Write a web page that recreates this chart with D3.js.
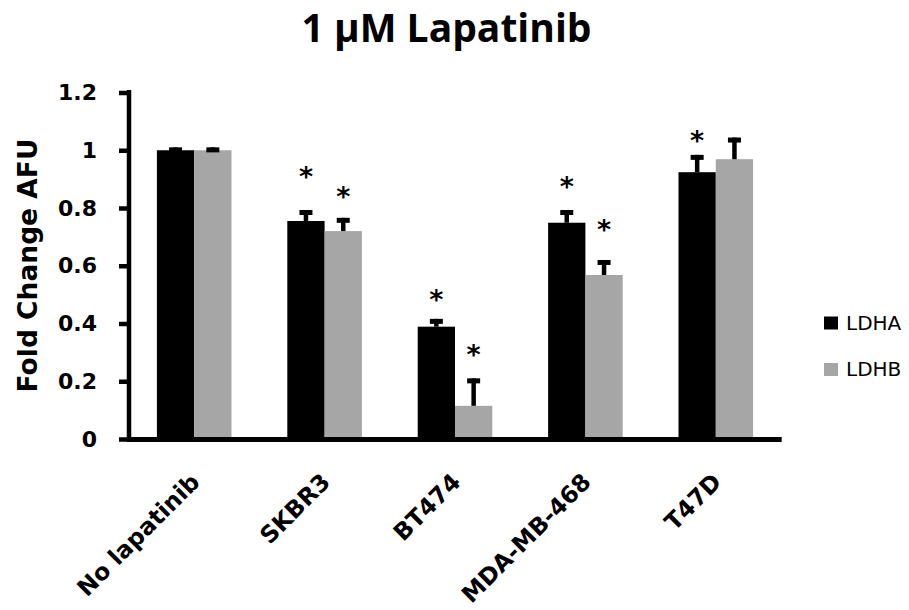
<!DOCTYPE html>
<html>
<head>
<meta charset="utf-8">
<script src="https://cdn.jsdelivr.net/npm/d3@7"></script>
<style>
  body { margin: 0; background: #fff; }
</style>
</head>
<body>
<div id="chart"></div>
<script>
// Donnees du graphique
var categories = ["No lapatinib", "SKBR3", "BT474", "MDA-MB-468", "T47D"];
var series = ["LDHA", "LDHB"];
var ldhaValues = [1.0, 0.755, 0.389, 0.749, 0.924];
var ldhbValues = [1.0, 0.72, 0.115, 0.568, 0.969];
var ldhaErrors = [0.01, 0.038, 0.027, 0.044, 0.06];
var ldhbErrors = [0.01, 0.046, 0.095, 0.052, 0.075];
// hauteur des asterisques (null = pas d'asterisque)
var ldhaStars = [null, 0.932, 0.507, 0.897, 1.056];
var ldhbStars = [null, 0.862, 0.315, 0.748, null];
var yTicks = [0, 0.2, 0.4, 0.6, 0.8, 1, 1.2];
var yTickLabels = ["0", "0.2", "0.4", "0.6", "0.8", "1", "1.2"];

var colors = { LDHA: "#000000", LDHB: "#a6a6a6" };

const width = 909, height = 610;

var svg = d3.select("#chart")
  .append("svg")
  .attr("width", width)
  .attr("height", height);

// tableau pour le dessin
var rows = categories.map(function (c, i) {
  return {
    cat: c,
    bars: [
      { s: "LDHA", v: ldhaValues[i], e: ldhaErrors[i], star: ldhaStars[i] },
      { s: "LDHB", v: ldhbValues[i], e: ldhbErrors[i], star: ldhbStars[i] }
    ]
  };
});

// echelles
var x = d3.scaleBand()
  .domain(categories)
  .range([129, 781])
  .paddingInner(0.428)
  .paddingOuter(0.214);

var xs = d3.scaleBand()
  .domain(series)
  .range([0, x.bandwidth()]);

var y = d3.scaleLinear()
  .domain([0, 1.2])
  .range([439, 92.5]);

// barres
var groups = svg.append("g")
  .selectAll("g")
  .data(rows)
  .join("g")
  .attr("transform", function (d) { return "translate(" + x(d.cat) + ",0)"; });

groups.selectAll("rect.bar")
  .data(function (d) { return d.bars; })
  .join("rect")
  .attr("class", "bar")
  .attr("x", function (d) { return xs(d.s); })
  .attr("y", function (d) { return y(d.v); })
  .attr("width", xs.bandwidth())
  .attr("height", function (d) { return y(0) - y(d.v); })
  .attr("fill", function (d) { return colors[d.s]; });

// barres d'erreur (haut seulement)
groups.selectAll("line.err")
  .data(function (d) { return d.bars; })
  .join("line")
  .attr("class", "err")
  .attr("x1", function (d) { return xs(d.s) + xs.bandwidth() / 2; })
  .attr("x2", function (d) { return xs(d.s) + xs.bandwidth() / 2; })
  .attr("y1", function (d) { return y(d.v); })
  .attr("y2", function (d) { return y(d.v + d.e); })
  .attr("stroke", "#000")
  .attr("stroke-width", 4.5);

groups.selectAll("rect.cap")
  .data(function (d) { return d.bars; })
  .join("rect")
  .attr("class", "cap")
  .attr("x", function (d) { return xs(d.s) + xs.bandwidth() / 2 - 6.5; })
  .attr("y", function (d) { return y(d.v + d.e); })
  .attr("width", 13)
  .attr("height", 5)
  .attr("fill", "#000");

// asterisques
groups.selectAll("text.star")
  .data(function (d) { return d.bars.filter(function (b) { return b.star != null; }); })
  .join("text")
  .attr("class", "star")
  .attr("x", function (d) { return xs(d.s) + xs.bandwidth() / 2; })
  .attr("y", function (d) { return y(d.star); })
  .attr("dy", "0.6em")
  .attr("text-anchor", "middle")
  .style("font-family", "DejaVu Sans")
  .style("font-weight", "bold")
  .style("font-size", "27px")
  .text("*");

// axe y
var yAxis = svg.append("g")
  .attr("transform", "translate(129,0)")
  .call(d3.axisLeft(y)
    .tickValues(yTicks)
    .tickFormat(function (d, i) { return yTickLabels[i]; })
    .tickSize(10)
    .tickSizeOuter(0)
    .tickPadding(22));

yAxis.select(".domain")
  .attr("stroke-width", 4.5)
  .attr("d", "M0," + (y(1.2) - 2.5) + "V" + (y(0) + 3));
yAxis.selectAll(".tick line").attr("stroke-width", 4.5);
yAxis.selectAll(".tick text")
  .style("font-family", "DejaVu Sans")
  .style("font-weight", "bold")
  .style("font-size", "22px")
  .attr("fill", "#000");

// axe x
var xAxis = svg.append("g")
  .attr("transform", "translate(0,439.5)")
  .call(d3.axisBottom(x).tickSize(0).tickSizeOuter(0));

xAxis.select(".domain")
  .attr("stroke-width", 5)
  .attr("d", "M127,0H781.7");
xAxis.selectAll(".tick text")
  .attr("y", 0)
  .attr("dy", 0)
  .attr("text-anchor", "end")
  .attr("transform", "translate(7,44) rotate(-45)")
  .style("font-family", "DejaVu Sans")
  .style("font-weight", "bold")
  .style("font-size", "23.5px")
  .attr("fill", "#000");

// titre
svg.append("text")
  .attr("x", 446.5)
  .attr("y", 42)
  .attr("text-anchor", "middle")
  .style("font-family", "Open Sans")
  .style("font-weight", "bold")
  .style("font-size", "39px")
  .text("1 \u00b5M Lapatinib");

// titre axe y
svg.append("text")
  .attr("transform", "translate(37,265.5) rotate(-90)")
  .attr("text-anchor", "middle")
  .style("font-family", "DejaVu Sans")
  .style("font-weight", "bold")
  .style("font-size", "26.5px")
  .text("Fold Change AFU");

// legende
var legend = svg.append("g")
  .selectAll("g")
  .data(series)
  .join("g")
  .attr("transform", function (d, i) { return "translate(824," + (316.5 + i * 46.5) + ")"; });

legend.append("rect")
  .attr("width", 14)
  .attr("height", 13)
  .attr("fill", function (d) { return colors[d]; });

legend.append("text")
  .attr("x", 22)
  .attr("y", 13)
  .style("font-family", "DejaVu Sans")
  .style("font-size", "20px")
  .text(function (d) { return d; });
</script>
</body>
</html>
